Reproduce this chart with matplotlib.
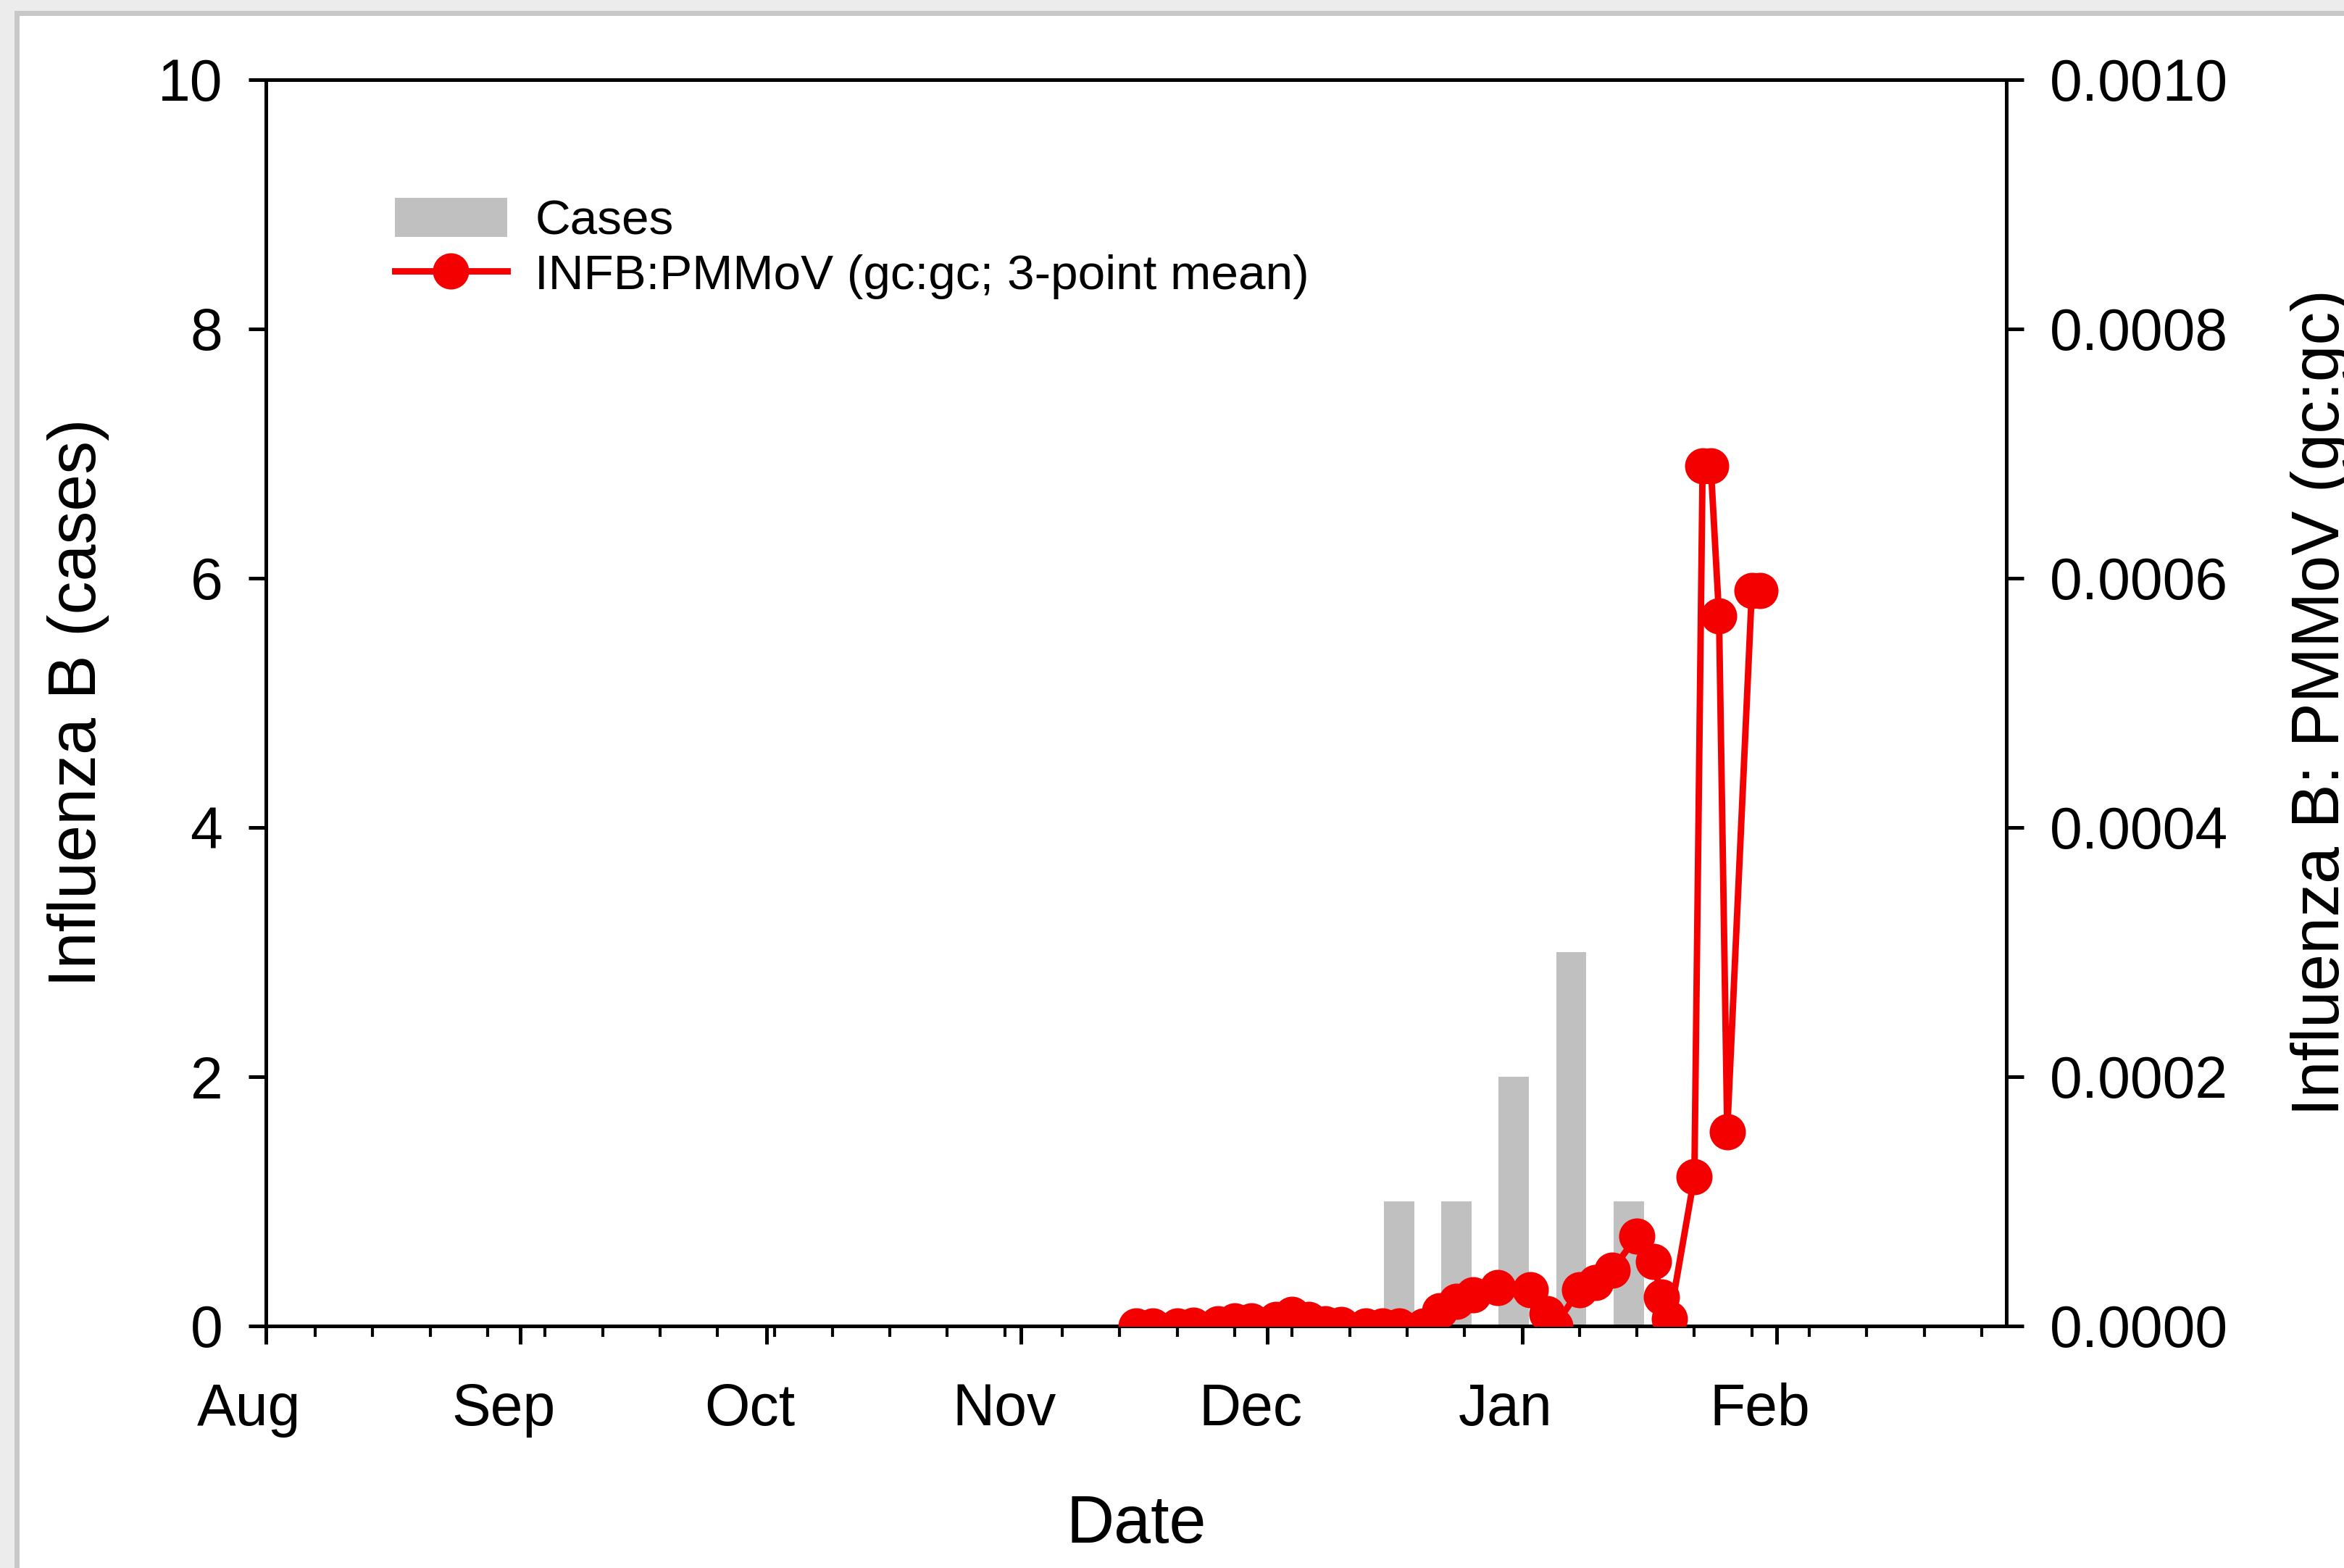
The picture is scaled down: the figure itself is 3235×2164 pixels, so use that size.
import matplotlib
matplotlib.use("Agg")
import matplotlib.pyplot as plt
import matplotlib.dates as mdates
import matplotlib.transforms as mtransforms
from matplotlib.patches import Rectangle
import pandas as pd

plt.rcParams['font.family'] = ['Liberation Sans', 'DejaVu Sans']

# ---- data ----
case_dates = ["2022-12-17", "2022-12-24", "2022-12-31", "2023-01-07", "2023-01-14"]
case_counts = [1, 1, 2, 3, 1]

ratio_dates = ["2022-11-15", "2022-11-17", "2022-11-20", "2022-11-22", "2022-11-25",
               "2022-11-27", "2022-11-29", "2022-12-02", "2022-12-04", "2022-12-06",
               "2022-12-08", "2022-12-10", "2022-12-13", "2022-12-15", "2022-12-17",
               "2022-12-20", "2022-12-22", "2022-12-24", "2022-12-26", "2022-12-29",
               "2023-01-02", "2023-01-04", "2023-01-05", "2023-01-08", "2023-01-10",
               "2023-01-12", "2023-01-15", "2023-01-17", "2023-01-18", "2023-01-19",
               "2023-01-22", "2023-01-23", "2023-01-24", "2023-01-25", "2023-01-26",
               "2023-01-29", "2023-01-30"]
ratio_values = [0.0, 0.0, 0.0, 0.0000005, 0.000002,
                0.000004, 0.000004, 0.000005, 0.0000095, 0.000005,
                0.000002, 0.000001, 0.0, 0.0, 0.0,
                0.0, 0.000012, 0.00002, 0.000025, 0.000031,
                0.000029, 0.00001, 0.0, 0.000029, 0.000035,
                0.000045, 0.000072, 0.000052, 0.000023, 0.000006,
                0.00012, 0.00069, 0.00069, 0.00057, 0.000156,
                0.00059, 0.00059]

month_labels = ["Aug", "Sep", "Oct", "Nov", "Dec", "Jan", "Feb"]
left_ticks = [0, 2, 4, 6, 8, 10]
right_ticks = [0.0, 0.0002, 0.0004, 0.0006, 0.0008, 0.0010]

cd = pd.to_datetime(case_dates)
rd = pd.to_datetime(ratio_dates)

W, H, DPI = 3235, 2164, 200
fig = plt.figure(figsize=(W / DPI, H / DPI), dpi=DPI)
fig.patch.set_facecolor('white')

L, R, T, B = 367, 2769, 110, 1830
ax = fig.add_axes([L / W, 1 - B / H, (R - L) / W, (B - T) / H])
ax2 = ax.twinx()

bars = ax.bar(cd, case_counts, width=3.7, color='#c0c0c0', linewidth=0, label='Cases', zorder=1)
line, = ax2.plot(rd, ratio_values, color='#f40000', lw=3.2, marker='o', markersize=18,
                 markeredgewidth=0, label='INFB:PMMoV (gc:gc; 3-point mean)', zorder=3)

ax.set_xlim(pd.Timestamp("2022-08-01"), pd.Timestamp("2023-03-01"))
ax.set_ylim(0, 10)
ax2.set_ylim(0, 0.001)

ax.xaxis.set_major_locator(mdates.MonthLocator(bymonth=[8, 9, 10, 11, 12, 1, 2]))
ax.xaxis.set_major_formatter(mdates.DateFormatter('%b'))
ax.xaxis.set_minor_locator(mdates.WeekdayLocator(byweekday=mdates.SU))

ax.set_yticks(left_ticks)
ax.set_yticklabels([str(v) for v in left_ticks])
ax2.set_yticks(right_ticks)
ax2.set_yticklabels([f"{v:.4f}" for v in right_ticks])

for a in (ax, ax2):
    for s in a.spines.values():
        s.set_linewidth(1.8)
        s.set_color('black')

ax.tick_params(axis='x', which='major', direction='out', length=9, width=1.8,
               labelsize=29, pad=19)
ax.tick_params(axis='x', which='minor', direction='out', length=5.5, width=1.5)
ax.tick_params(axis='y', which='major', direction='out', length=8.5, width=1.8,
               labelsize=29, pad=13)
ax2.tick_params(axis='y', which='major', direction='out', length=8.5, width=1.8,
                labelsize=29, pad=13)

ax.set_xlabel('Date', fontsize=33)
ax.xaxis.set_label_coords(0.5, -0.135)
ax.set_ylabel('Influenza B (cases)', fontsize=33)
ax.yaxis.set_label_coords(-0.09, 0.5)
ax2.set_ylabel('Influenza B: PMMoV (gc:gc)', fontsize=33)
ax2.yaxis.set_label_coords(1.163, 0.5)

offset = mtransforms.ScaledTranslation(-23 / DPI, 0, fig.dpi_scale_trans)
for lab in ax.get_xticklabels():
    lab.set_transform(lab.get_transform() + offset)

leg = ax.legend([bars, line], ['Cases', 'INFB:PMMoV (gc:gc; 3-point mean)'],
                loc='upper left', bbox_to_anchor=(0.074, 0.905), frameon=False,
                fontsize=24.3, borderpad=0, borderaxespad=0, handlelength=2.3,
                handleheight=0.85, handletextpad=0.57, labelspacing=0.17)

# screenshot frame (top and left)
fig.add_artist(Rectangle((0, 1 - 15 / H), 1, 15 / H, transform=fig.transFigure,
                         color='#ececec', lw=0, zorder=-5))
fig.add_artist(Rectangle((20 / W, 1 - 22 / H), 1, 7 / H, transform=fig.transFigure,
                         color='#c8c8c8', lw=0, zorder=-5))
fig.add_artist(Rectangle((0, 0), 20 / W, 1, transform=fig.transFigure,
                         color='#ececec', lw=0, zorder=-5))
fig.add_artist(Rectangle((20 / W, 0), 7 / W, 1 - 15 / H, transform=fig.transFigure,
                         color='#c8c8c8', lw=0, zorder=-5))

fig.savefig('out.png', dpi=DPI)
